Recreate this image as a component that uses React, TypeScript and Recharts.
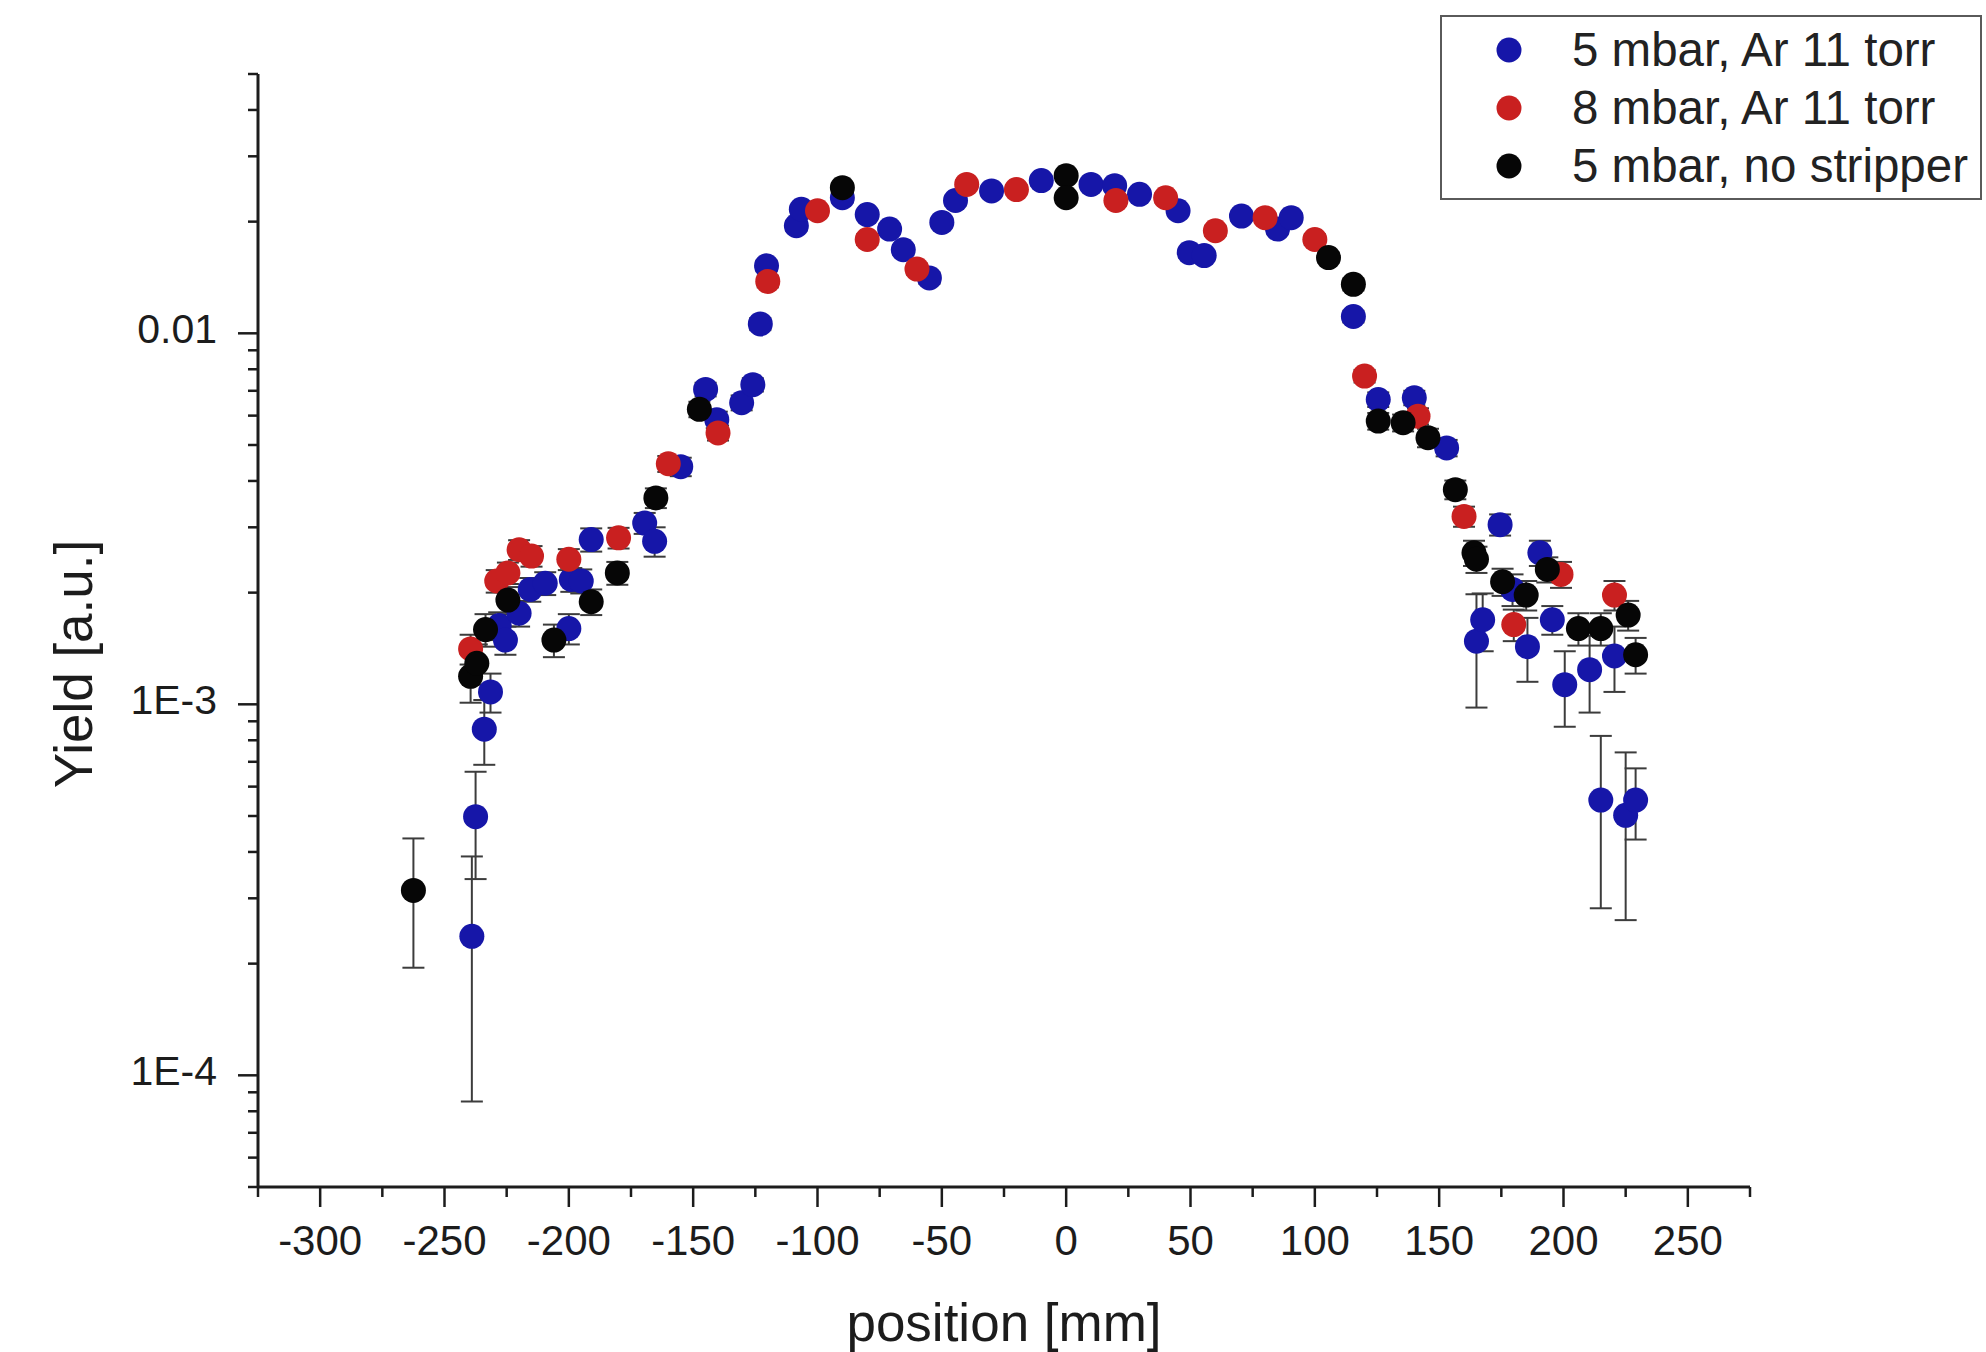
import { ErrorBar, Legend, Scatter, ScatterChart, XAxis, YAxis } from "recharts";

// 5 mbar, Ar 11 torr
const blueX = [
  -239, -237.5, -234, -231.5, -228, -225.5, -220, -215.5, -209.5, -200, -199, -195, -191,
  -169.5, -165.5, -155, -145, -140.5, -130.5, -126, -123, -120.5, -108.5, -106.5, -90, -80,
  -71, -65.5, -55, -50, -44.5, -30, -10, 10, 19.5, 29.5, 45, 49.5, 55.5, 70.5, 85, 90.5,
  115.5, 125.5, 140, 153, 165, 167.5, 174.5, 179.5, 185.5, 190.5, 195.5, 200.5, 210.5, 215,
  220.5, 225, 229,
];
const blueY = [
  2.37e-4, 4.98e-4, 8.57e-4, 1.08e-3, 1.63e-3, 1.49e-3, 1.76e-3, 2.04e-3, 2.12e-3, 1.6e-3,
  2.17e-3, 2.15e-3, 2.78e-3, 3.08e-3, 2.75e-3, 4.37e-3, 7.06e-3, 5.85e-3, 6.5e-3, 7.27e-3,
  0.0106, 0.0152, 0.0195, 0.0216, 0.0232, 0.0209, 0.0191, 0.0168, 0.0141, 0.0199, 0.0228,
  0.0242, 0.0258, 0.0252, 0.025, 0.0237, 0.0214, 0.0165, 0.0162, 0.0207, 0.0191, 0.0205,
  0.0111, 6.63e-3, 6.7e-3, 4.91e-3, 1.48e-3, 1.69e-3, 3.05e-3, 2.04e-3, 1.43e-3, 2.56e-3,
  1.69e-3, 1.13e-3, 1.24e-3, 5.52e-4, 1.35e-3, 5.02e-4, 5.52e-4,
];
const blueErr = [
  1.52e-4, 1.6e-4, 1.7e-4, 1.3e-4, 1.4e-4, 1.3e-4, 1.4e-4, 1.5e-4, 1.5e-4, 1.5e-4, 1.6e-4,
  1.6e-4, 2e-4, 2e-4, 2.5e-4, 2.5e-4, 3e-4, 3e-4, 3e-4, 3e-4, 4e-4, 5e-4, 6e-4, 6e-4, 7e-4,
  6e-4, 6e-4, 5e-4, 5e-4, 6e-4, 7e-4, 7e-4, 8e-4, 7e-4, 7e-4, 7e-4, 6e-4, 5e-4, 5e-4, 6e-4,
  6e-4, 6e-4, 4e-4, 3e-4, 3e-4, 2.5e-4, 5e-4, 3e-4, 2e-4, 2e-4, 2.8e-4, 2e-4, 1.5e-4, 2.6e-4,
  2.9e-4, 2.7e-4, 2.7e-4, 2.4e-4, 1.2e-4,
];

// 8 mbar, Ar 11 torr
const redX = [
  -239.5, -229, -224.5, -220, -215, -200, -180, -160, -140, -120, -100, -80, -60, -40, -20,
  20, 40, 60, 80, 100, 120, 141.5, 160, 180, 199, 220.5,
];
const redY = [
  1.41e-3, 2.15e-3, 2.26e-3, 2.61e-3, 2.51e-3, 2.46e-3, 2.81e-3, 4.45e-3, 5.39e-3, 0.0138,
  0.0214, 0.0179, 0.0149, 0.0252, 0.0244, 0.0228, 0.0232, 0.0189, 0.0205, 0.0179, 7.67e-3,
  5.98e-3, 3.21e-3, 1.64e-3, 2.24e-3, 1.97e-3,
];
const redErr = [
  1.3e-4, 1.5e-4, 1.5e-4, 1.6e-4, 1.6e-4, 1.6e-4, 1.8e-4, 2.2e-4, 2.5e-4, 5e-4, 6e-4, 6e-4,
  5e-4, 7e-4, 7e-4, 7e-4, 7e-4, 6e-4, 6e-4, 6e-4, 3e-4, 3e-4, 2e-4, 1.6e-4, 1.8e-4, 1.8e-4,
];

// 5 mbar, no stripper
const blackX = [
  -262.5, -239.5, -237, -233.5, -224.5, -206, -191, -180.5, -165, -147.5, -90, 0, 0, 105.5,
  115.5, 125.5, 135.5, 145.5, 156.5, 164, 165, 175.5, 185, 193.5, 206, 215, 226, 229,
];
const blackY = [
  3.15e-4, 1.19e-3, 1.29e-3, 1.59e-3, 1.91e-3, 1.49e-3, 1.89e-3, 2.26e-3, 3.6e-3, 6.24e-3,
  0.0247, 0.0266, 0.0232, 0.016, 0.01355, 5.8e-3, 5.74e-3, 5.23e-3, 3.79e-3, 2.56e-3, 2.46e-3,
  2.14e-3, 1.97e-3, 2.31e-3, 1.6e-3, 1.6e-3, 1.74e-3, 1.36e-3,
];
const blackErr = [
  1.2e-4, 1.8e-4, 1.6e-4, 1.6e-4, 1.6e-4, 1.5e-4, 1.5e-4, 1.6e-4, 2.2e-4, 3e-4, 7e-4, 8e-4,
  7e-4, 5e-4, 5e-4, 3e-4, 3e-4, 3e-4, 2.2e-4, 2e-4, 2e-4, 1.8e-4, 1.8e-4, 1.8e-4, 1.6e-4,
  1.6e-4, 1.6e-4, 1.5e-4,
];

const seriesNames = ["5 mbar, Ar 11 torr", "8 mbar, Ar 11 torr", "5 mbar, no stripper"];
const seriesColors = ["#1616a8", "#c92020", "#060606"];

const xMajor = [-300, -250, -200, -150, -100, -50, 0, 50, 100, 150, 200, 250];
const xMinor = [-325, -275, -225, -175, -125, -75, -25, 25, 75, 125, 175, 225, 275];
const yMajor = [1e-4, 1e-3, 0.01];
const yMajorLabels = ["1E-4", "1E-3", "0.01"];
const yMinor = [
  5e-5, 6e-5, 7e-5, 8e-5, 9e-5, 2e-4, 3e-4, 4e-4, 5e-4, 6e-4, 7e-4, 8e-4, 9e-4, 2e-3, 3e-3,
  4e-3, 5e-3, 6e-3, 7e-3, 8e-3, 9e-3, 0.02, 0.03, 0.04, 0.05,
];

const FONT = "'Liberation Sans', Arial, sans-serif";
const INK = "#1c1c1c";

const rows = (xs: number[], ys: number[], es: number[]) =>
  xs.map((x, i) => ({ x, y: ys[i], err: es[i] }));

const seriesData = [
  rows(blueX, blueY, blueErr),
  rows(redX, redY, redErr),
  rows(blackX, blackY, blackErr),
];

const XTick = (props: any) => {
  const { x, y, payload } = props;
  const major = xMajor.includes(payload.value);
  return (
    <g>
      <line x1={x} x2={x} y1={y} y2={y + (major ? 20 : 10)} stroke={INK} strokeWidth={2.5} />
      {major && (
        <text x={x} y={y + 68} textAnchor="middle" fontSize={42} fontFamily={FONT} fill={INK}>
          {payload.value}
        </text>
      )}
    </g>
  );
};

const YTick = (props: any) => {
  const { x, y, payload } = props;
  const idx = yMajor.findIndex((m) => Math.abs(m - payload.value) / m < 1e-6);
  const major = idx >= 0;
  return (
    <g>
      <line x1={x} x2={x - (major ? 20 : 10)} y1={y} y2={y} stroke={INK} strokeWidth={2.5} />
      {major && (
        <text x={x - 41} y={y + 10} textAnchor="end" fontSize={41} fontFamily={FONT} fill={INK}>
          {yMajorLabels[idx]}
        </text>
      )}
    </g>
  );
};

const Dot = (color: string) => (props: any) =>
  <circle cx={props.cx} cy={props.cy} r={12.5} fill={color} />;

const LegendBox = () => (
  <div
    style={{
      width: 538,
      height: 177,
      border: "2px solid #5a5a5a",
      background: "#fff",
      fontFamily: FONT,
      boxSizing: "content-box",
      paddingTop: 4,
      overflow: "hidden",
    }}
  >
    {seriesNames.map((name, i) => (
      <div key={name} style={{ display: "flex", alignItems: "center", height: 58 }}>
        <svg width={26} height={26} style={{ marginLeft: 54, flexShrink: 0 }}>
          <circle cx={13} cy={13} r={12.5} fill={seriesColors[i]} />
        </svg>
        <span
          style={{
            marginLeft: 50,
            fontSize: 47.5,
            color: "#222",
            lineHeight: "58px",
            whiteSpace: "nowrap",
          }}
        >
          {name}
        </span>
      </div>
    ))}
  </div>
);

export default function App() {
  return (
    <div style={{ position: "absolute", left: 0, top: 0, width: 1986, height: 1352, background: "#fff" }}>
      <ScatterChart
        width={1986}
        height={1352}
        margin={{ top: 74, right: 236, bottom: 65, left: 58 }}
      >
        <XAxis
          type="number"
          dataKey="x"
          domain={[-325, 275]}
          allowDataOverflow
          ticks={[...xMinor, ...xMajor].sort((a, b) => a - b)}
          interval={0}
          height={100}
          tickSize={0}
          tickMargin={0}
          tickLine={false}
          tick={<XTick />}
          axisLine={{ stroke: INK, strokeWidth: 3 }}
          label={{
            content: () => (
              <text x={1004} y={1341} textAnchor="middle" fontSize={53} fontFamily={FONT} fill={INK}>
                position [mm]
              </text>
            ),
          }}
        />
        <YAxis
          type="number"
          dataKey="y"
          scale="log"
          domain={[5e-5, 0.05]}
          allowDataOverflow
          ticks={[...yMinor, ...yMajor].sort((a, b) => a - b)}
          interval={0}
          width={200}
          tickSize={0}
          tickMargin={0}
          tickLine={false}
          tick={<YTick />}
          axisLine={{ stroke: INK, strokeWidth: 3 }}
          label={{
            content: () => (
              <text
                x={92}
                y={664}
                textAnchor="middle"
                fontSize={53}
                fontFamily={FONT}
                fill={INK}
                transform="rotate(-90 92 664)"
              >
                Yield [a.u.]
              </text>
            ),
          }}
        />
        <Legend
          layout="vertical"
          align="center"
          verticalAlign="middle"
          content={() => <LegendBox />}
          wrapperStyle={{ left: 1440, top: 15, width: 542, height: 189 }}
        />
        {seriesData.map((data, i) => (
          <Scatter
            key={seriesNames[i]}
            name={seriesNames[i]}
            data={data}
            fill={seriesColors[i]}
            shape={Dot(seriesColors[i])}
            isAnimationActive={false}
          >
            <ErrorBar
              dataKey="err"
              direction="y"
              width={11}
              stroke="#3c3c3c"
              strokeWidth={2}
              isAnimationActive={false}
            />
          </Scatter>
        ))}
      </ScatterChart>
    </div>
  );
}
